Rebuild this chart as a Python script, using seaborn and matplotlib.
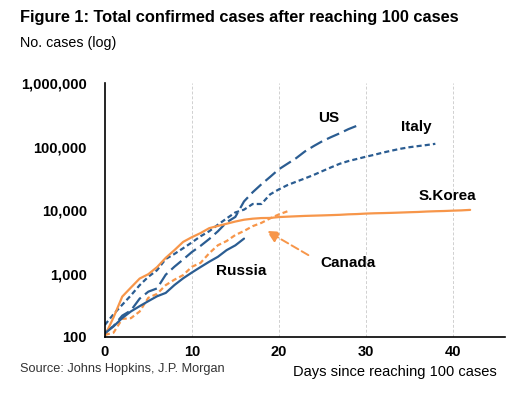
import numpy as np
import pandas as pd
import matplotlib
matplotlib.use("Agg")
import matplotlib.pyplot as plt
import seaborn as sns

# confirmed cases by day since reaching 100 cases
us = [118, 149, 217, 262, 402, 518, 583, 959, 1281, 1663, 2179, 2726, 3499, 4632,
      6421, 7786, 13680, 19101, 25493, 33276, 43847, 53740, 65778, 83836, 101657,
      121478, 140886, 161807, 188172, 213372]
italy = [155, 229, 322, 453, 655, 888, 1128, 1694, 2036, 2502, 3089, 3858, 4636, 5883,
         7375, 9172, 10149, 12462, 12462, 17660, 21157, 24747, 27980, 31506, 35713,
         41035, 47021, 53578, 59138, 63927, 69176, 74386, 80589, 86498, 92472, 97689,
         101739, 105792, 110574]
skorea = [104, 204, 433, 602, 833, 977, 1261, 1766, 2337, 3150, 3736, 4335, 5186, 5621,
          6088, 6593, 7041, 7314, 7478, 7513, 7755, 7869, 7979, 8086, 8162, 8236, 8320,
          8413, 8565, 8652, 8799, 8897, 8961, 9037, 9137, 9241, 9332, 9478, 9583, 9661,
          9786, 9887, 10062]
canada = [108, 117, 193, 198, 252, 415, 478, 657, 800, 943, 1277, 1469, 2088, 2790,
          3251, 4042, 4682, 5576, 6280, 7398, 8527, 9560]
russia = [114, 147, 199, 253, 306, 367, 438, 495, 658, 840, 1036, 1264, 1534, 1836,
          2337, 2777, 3548]

series = {"US": us, "Italy": italy, "S.Korea": skorea, "Canada": canada, "Russia": russia}
rows = []
for name, vals in series.items():
    for d, v in enumerate(vals):
        rows.append({"country": name, "day": d, "cases": v})
df = pd.DataFrame(rows)

blue = "#2B5D92"
orange = "#F7964A"
palette = {"US": blue, "Italy": blue, "Russia": blue, "S.Korea": orange, "Canada": orange}
dashes = {"US": (6, 2.4), "Italy": (2.3, 1.4), "Canada": (2.3, 1.4),
          "S.Korea": "", "Russia": ""}

sns.set_style("white")
plt.rcParams["font.family"] = ["Liberation Sans", "DejaVu Sans"]

fig = plt.figure(figsize=(5.09, 3.93), dpi=100)
ax = fig.add_axes([0.206, 0.1425, 0.786, 0.646])

sns.lineplot(data=df, x="day", y="cases", hue="country", style="country",
             palette=palette, dashes=dashes, linewidth=1.6, estimator=None,
             legend=False, ax=ax)

ax.set_yscale("log")
ax.set_ylim(100, 1e6)
ax.set_xlim(0, 46)
ax.set_yticks([100, 1000, 10000, 100000, 1000000])
ax.set_yticklabels(["100", "1,000", "10,000", "100,000", "1,000,000"])
ax.minorticks_off()
ax.set_xticks([0, 10, 20, 30, 40])
ax.set_xlabel("")
ax.set_ylabel("")
for lab in ax.get_xticklabels() + ax.get_yticklabels():
    lab.set_fontweight("bold")
    lab.set_fontsize(10.5)
    lab.set_color("black")
ax.tick_params(axis="y", direction="out", length=4, width=1, color="black", pad=9)
ax.tick_params(axis="x", direction="inout", length=5, width=1, color="black", pad=3)

for x in [10, 20, 30, 40]:
    ax.axvline(x, color="#d0d0d0", linestyle=(0, (3, 2)), linewidth=0.7, zorder=0)

sns.despine(ax=ax)
ax.spines["left"].set_color("black")
ax.spines["bottom"].set_color("black")
ax.spines["left"].set_linewidth(1.2)
ax.spines["bottom"].set_linewidth(1.2)

# series labels
lab_kw = dict(fontsize=11, fontweight="bold", ha="center", va="center", color="black")
ax.text(25.7, 2.8e5, "US", **lab_kw)
ax.text(35.8, 2.0e5, "Italy", **lab_kw)
ax.text(39.4, 1.67e4, "S.Korea", **lab_kw)
ax.text(15.7, 1100, "Russia", **lab_kw)
ax.text(28.0, 1480, "Canada", **lab_kw)

ax.annotate("", xy=(18.6, 4700), xytext=(23.4, 1950),
            arrowprops=dict(arrowstyle="-|>,head_length=0.7,head_width=0.35",
                            color=orange, linestyle=(0, (4, 2)), linewidth=1.4,
                            shrinkA=0, shrinkB=0))

fig.text(0.04, 0.955, "Figure 1: Total confirmed cases after reaching 100 cases",
         fontsize=11.8, fontweight="bold", va="center", ha="left", color="black")
fig.text(0.04, 0.89, "No. cases (log)", fontsize=10.3, va="center", ha="left",
         color="black")
fig.text(0.04, 0.062, "Source: Johns Hopkins, J.P. Morgan", fontsize=9.2,
         va="center", ha="left", color="#333333")
fig.text(0.976, 0.053, "Days since reaching 100 cases", fontsize=10.5,
         va="center", ha="right", color="black")

fig.savefig("out.png", dpi=100)
